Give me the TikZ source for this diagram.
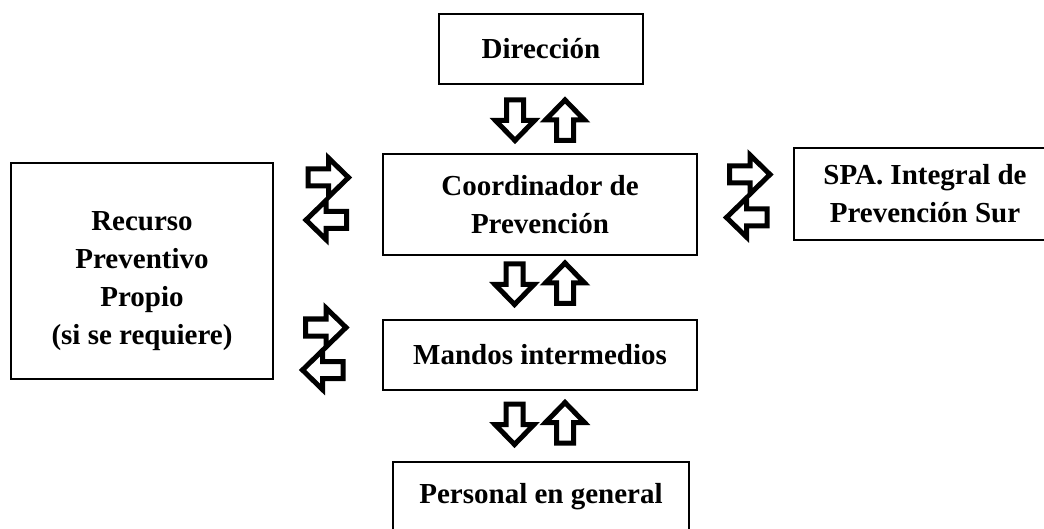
\documentclass[tikz,border=0pt]{standalone}
\usepackage{fontspec}
\setmainfont{Liberation Serif}
\tikzset{
  txt/.style={inner sep=0pt, align=center, font=\bfseries\fontsize{29}{38}\selectfont},
  box/.style={txt, draw=black, line width=1.8pt, fill=white},
  blockarrow/.pic={
    \draw[line width=5pt, line join=miter, fill=white]
      (-20.5,-8.5) -- (0,-8.5) -- (0,-19.5) -- (20,0) -- (0,19.5) -- (0,8.5) -- (-20.5,8.5) -- cycle;
  }
}
\begin{document}
\begin{tikzpicture}[x=1pt,y=-1pt]
\fill[white] (0,0) rectangle (1044,529);
\clip (0,0) rectangle (1044,529);
% boxes
\node[box, minimum width=204pt, minimum height=70pt] (dir) at (541,49)
  {Dirección};
\node[box, minimum width=314pt, minimum height=101pt] (coord) at (540,204.5)
  {Coordinador de\\Prevención};
\node[box, minimum width=262pt, minimum height=216pt] (rec) at (142,271) {};
\node[txt] (rectext) at ([yshift=-10pt]rec.center)
  {Recurso\\Preventivo\\Propio\\(si se requiere)};
\node[box, minimum width=262pt, minimum height=92pt] (spa) at (925,194)
  {SPA. Integral de\\Prevención Sur};
\node[box, minimum width=314pt, minimum height=70pt] (mandos) at (540,355)
  {Mandos intermedios};
\node[box, minimum width=296pt, minimum height=70pt] (pers) at (541,497)
  {Personal en general};
% vertical block arrows
\pic[rotate=-90] at (515,120.5) {blockarrow};
\pic[rotate=90]  at (565,120) {blockarrow};
\pic[rotate=-90] at (514.5,284.5) {blockarrow};
\pic[rotate=90]  at (565,283) {blockarrow};
\pic[rotate=-90] at (514.5,424.5) {blockarrow};
\pic[rotate=90]  at (565,422.5) {blockarrow};
% horizontal block arrows
\pic at (328.5,177.5) {blockarrow};
\pic[rotate=180] at (326,220) {blockarrow};
\pic at (750,174.5) {blockarrow};
\pic[rotate=180] at (746.5,217.5) {blockarrow};
\pic at (326,327.5) {blockarrow};
\pic[rotate=180] at (322.5,370) {blockarrow};
\end{tikzpicture}
\end{document}
